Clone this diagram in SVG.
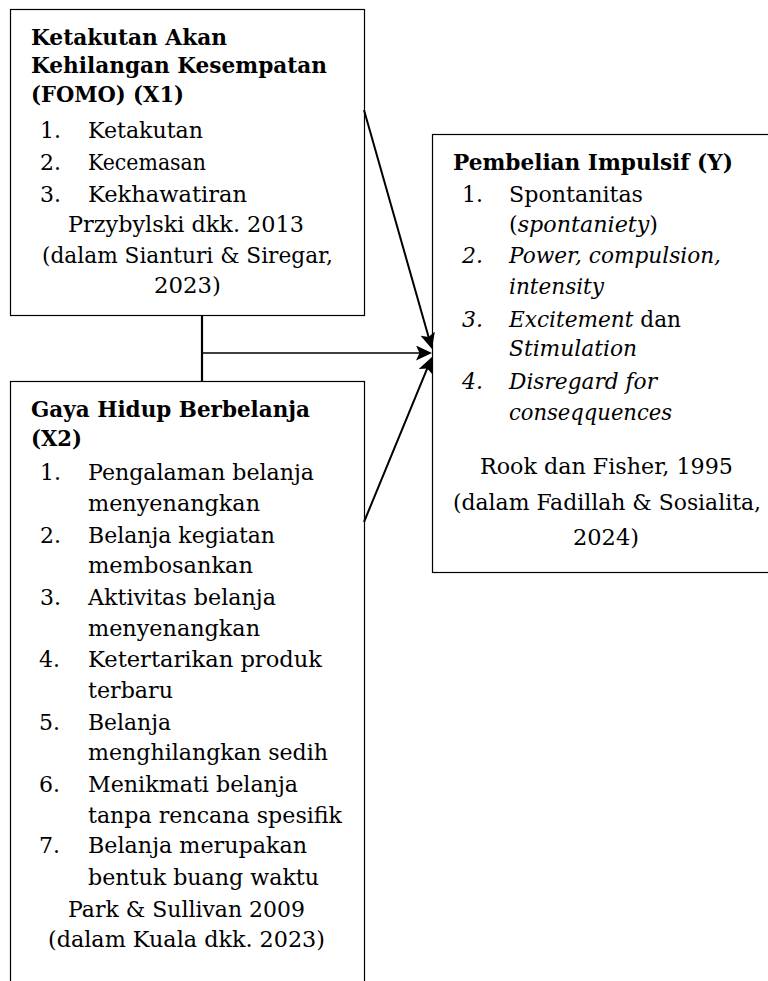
<svg xmlns="http://www.w3.org/2000/svg" width="768" height="981" viewBox="0 0 768 981">
<style>
  text { font-family: "DejaVu Serif", "Liberation Serif", serif; font-size: 22px; fill: #000; }
  .b { font-weight: bold; }
  .i { font-style: italic; }
  .box { fill: #fff; stroke: #000; stroke-width: 1.2; }
  .ln { fill: none; stroke: #000; }
</style>
<defs>
  <marker id="ah" viewBox="0 0 16 15" markerWidth="16" markerHeight="15" refX="8" refY="7.5" orient="auto" markerUnits="userSpaceOnUse">
    <path d="M0,0 L16,7.5 L0,15 L3.5,7.5 z" fill="#000"/>
  </marker>
</defs>
<rect width="768" height="981" fill="#fff"/>

<g id="x1">
  <rect class="box" x="10.5" y="9.5" width="354" height="306"/>
  <text class="b" x="31" y="45" textLength="196" lengthAdjust="spacingAndGlyphs">Ketakutan Akan</text>
  <text class="b" x="31" y="73" textLength="296" lengthAdjust="spacingAndGlyphs">Kehilangan Kesempatan</text>
  <text class="b" x="31" y="102" textLength="153" lengthAdjust="spacingAndGlyphs">(FOMO) (X1)</text>
  <text x="40" y="138">1.</text>
  <text x="88" y="138" textLength="115" lengthAdjust="spacingAndGlyphs">Ketakutan</text>
  <text x="40" y="170">2.</text>
  <text x="88" y="170" textLength="118" lengthAdjust="spacingAndGlyphs">Kecemasan</text>
  <text x="40" y="201.5">3.</text>
  <text x="88" y="201.5" textLength="159" lengthAdjust="spacingAndGlyphs">Kekhawatiran</text>
  <text x="68" y="232" textLength="236" lengthAdjust="spacingAndGlyphs">Przybylski dkk. 2013</text>
  <text x="42" y="263" textLength="291" lengthAdjust="spacingAndGlyphs">(dalam Sianturi &amp; Siregar,</text>
  <text x="154" y="293" textLength="67" lengthAdjust="spacingAndGlyphs">2023)</text>
</g>

<g id="x2">
  <rect class="box" x="10.5" y="381.5" width="354" height="700"/>
  <text class="b" x="31" y="417" textLength="279" lengthAdjust="spacingAndGlyphs">Gaya Hidup Berbelanja</text>
  <text class="b" x="31" y="446" textLength="51" lengthAdjust="spacingAndGlyphs">(X2)</text>
  <text x="40" y="480">1.</text>
  <text x="88" y="480" textLength="226" lengthAdjust="spacingAndGlyphs">Pengalaman belanja</text>
  <text x="88" y="511" textLength="172" lengthAdjust="spacingAndGlyphs">menyenangkan</text>
  <text x="40" y="542.5">2.</text>
  <text x="88" y="542.5" textLength="187" lengthAdjust="spacingAndGlyphs">Belanja kegiatan</text>
  <text x="88" y="573" textLength="165" lengthAdjust="spacingAndGlyphs">membosankan</text>
  <text x="40" y="605">3.</text>
  <text x="88" y="605" textLength="188" lengthAdjust="spacingAndGlyphs">Aktivitas belanja</text>
  <text x="88" y="636" textLength="172" lengthAdjust="spacingAndGlyphs">menyenangkan</text>
  <text x="39" y="667">4.</text>
  <text x="88" y="667" textLength="234" lengthAdjust="spacingAndGlyphs">Ketertarikan produk</text>
  <text x="88" y="698" textLength="85" lengthAdjust="spacingAndGlyphs">terbaru</text>
  <text x="39" y="730">5.</text>
  <text x="88" y="730" textLength="83" lengthAdjust="spacingAndGlyphs">Belanja</text>
  <text x="88" y="760" textLength="240" lengthAdjust="spacingAndGlyphs">menghilangkan sedih</text>
  <text x="39" y="792">6.</text>
  <text x="88" y="792" textLength="210" lengthAdjust="spacingAndGlyphs">Menikmati belanja</text>
  <text x="88" y="823" textLength="254" lengthAdjust="spacingAndGlyphs">tanpa rencana spesifik</text>
  <text x="39" y="853">7.</text>
  <text x="88" y="853" textLength="219" lengthAdjust="spacingAndGlyphs">Belanja merupakan</text>
  <text x="88" y="885" textLength="231" lengthAdjust="spacingAndGlyphs">bentuk buang waktu</text>
  <text x="68" y="917" textLength="237" lengthAdjust="spacingAndGlyphs">Park &amp; Sullivan 2009</text>
  <text x="48" y="947" textLength="277" lengthAdjust="spacingAndGlyphs">(dalam Kuala dkk. 2023)</text>
</g>

<g id="y">
  <rect class="box" x="432.5" y="134.5" width="350" height="438"/>
  <text class="b" x="453" y="170" textLength="280" lengthAdjust="spacingAndGlyphs">Pembelian Impulsif (Y)</text>
  <text x="462" y="201.5">1.</text>
  <text x="509" y="201.5" textLength="134" lengthAdjust="spacingAndGlyphs">Spontanitas</text>
  <text x="509" y="231.5" textLength="149" lengthAdjust="spacingAndGlyphs">(<tspan class="i">spontaniety</tspan>)</text>
  <text class="i" x="462" y="263">2.</text>
  <text class="i" x="509" y="263" textLength="212" lengthAdjust="spacingAndGlyphs">Power, compulsion,</text>
  <text class="i" x="509" y="293.5" textLength="95" lengthAdjust="spacingAndGlyphs">intensity</text>
  <text class="i" x="462" y="326.5">3.</text>
  <text x="509" y="326.5" textLength="172" lengthAdjust="spacingAndGlyphs"><tspan class="i">Excitement</tspan> dan</text>
  <text class="i" x="509" y="356" textLength="128" lengthAdjust="spacingAndGlyphs">Stimulation</text>
  <text class="i" x="462" y="389">4.</text>
  <text class="i" x="509" y="389" textLength="148" lengthAdjust="spacingAndGlyphs">Disregard for</text>
  <text class="i" x="509" y="419.5" textLength="163" lengthAdjust="spacingAndGlyphs">conseqquences</text>
  <text x="480" y="473.5" textLength="253" lengthAdjust="spacingAndGlyphs">Rook dan Fisher, 1995</text>
  <text x="453" y="510" textLength="308" lengthAdjust="spacingAndGlyphs">(dalam Fadillah &amp; Sosialita,</text>
  <text x="573" y="545" textLength="66" lengthAdjust="spacingAndGlyphs">2024)</text>
</g>

<g id="connectors">
  <line class="ln" x1="202" y1="315.5" x2="202" y2="381.5" stroke-width="2.2"/>
  <line class="ln" x1="202" y1="353" x2="424" y2="353" stroke-width="1.3" marker-end="url(#ah)"/>
  <line class="ln" x1="364" y1="110" x2="429.8" y2="341.3" stroke-width="2" marker-end="url(#ah)"/>
  <line class="ln" x1="364" y1="522" x2="428.9" y2="364.4" stroke-width="2" marker-end="url(#ah)"/>
</g>
</svg>
